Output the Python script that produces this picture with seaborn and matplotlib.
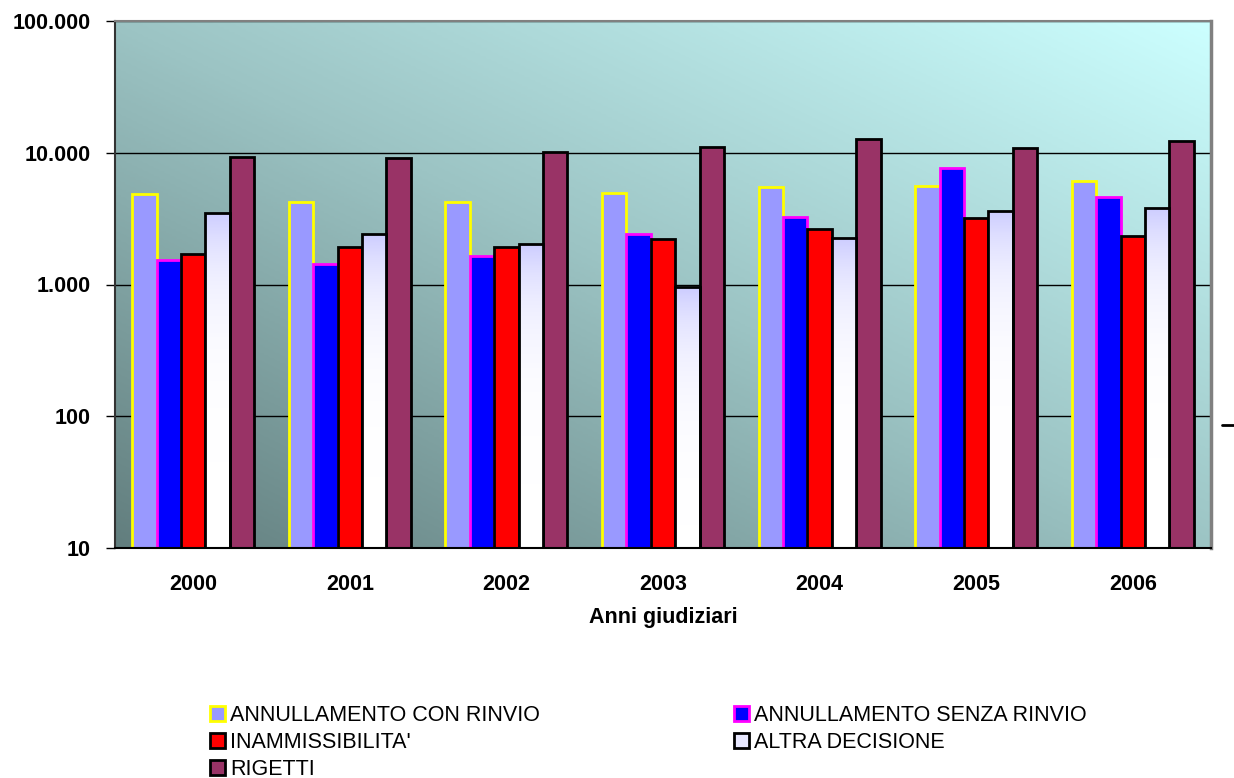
import numpy as np
import pandas as pd
import matplotlib.pyplot as plt
import matplotlib.ticker as mticker
from matplotlib.colors import LinearSegmentedColormap
from matplotlib.patches import Patch
import seaborn as sns

sns.set_style("white")
plt.rcParams['font.family'] = ['Liberation Sans', 'DejaVu Sans']
plt.rcParams['text.color'] = 'black'
plt.rcParams['axes.labelcolor'] = 'black'
plt.rcParams['xtick.color'] = 'black'
plt.rcParams['ytick.color'] = 'black'

anni = ["2000", "2001", "2002", "2003", "2004", "2005", "2006"]
serie = ["ANNULLAMENTO CON RINVIO", "ANNULLAMENTO SENZA RINVIO", "INAMMISSIBILITA'",
         "ALTRA DECISIONE", "RIGETTI"]
con_rinvio = [4860, 4230, 4230, 4950, 5500, 5600, 6110]
senza_rinvio = [1535, 1432, 1645, 2415, 3250, 7660, 4610]
inammissibilita = [1706, 1927, 1930, 2215, 2640, 3200, 2335]
altra = [3490, 2415, 2030, 957, 2255, 3610, 3810]
rigetti = [9290, 9120, 10100, 11060, 12710, 10870, 12280]

facecol = ["#9999FF", "#0000FF", "#FF0000", "#CCCCFF", "#993366"]
edgecol = ["#FFFF00", "#FF00FF", "#000000", "#000000", "#000000"]

df = pd.DataFrame({"anno": anni * 5,
                   "tipo": np.repeat(serie, len(anni)),
                   "valore": con_rinvio + senza_rinvio + inammissibilita + altra + rigetti})

fig = plt.figure(figsize=(12.34, 7.78), dpi=100)
ax = fig.add_axes([115 / 1234, 1 - 548 / 778, 1096 / 1234, 527 / 778])

# sfondo sfumato
bg = LinearSegmentedColormap.from_list("bg", ["#627e7e", "#9cc4c4", "#ccffff"])
gx, gy = np.meshgrid(np.linspace(0, 1, 200), np.linspace(0, 1, 200))
ax.imshow((gx + gy) / 2, cmap=bg, extent=[0, 1, 0, 1], transform=ax.transAxes,
          origin="lower", aspect="auto", zorder=0)

ax.set_yscale("log")
sns.barplot(data=df, x="anno", y="valore", hue="tipo", hue_order=serie,
            palette=facecol, saturation=1, width=0.78, ax=ax, zorder=3, legend=False)

for cont, ec in zip(ax.containers, edgecol):
    for p in cont:
        p.set_edgecolor(ec)
        p.set_linewidth(2)

# sfumatura per ALTRA DECISIONE
altra_cmap = LinearSegmentedColormap.from_list("alt", ["#FFFFFF", "#CCCCFF"])
for p in ax.containers[3]:
    x0, w = p.get_x(), p.get_width()
    h = p.get_height()
    im = ax.imshow(np.linspace(0, 1, 100).reshape(-1, 1), cmap=altra_cmap,
                   extent=[x0, x0 + w, 10, h], origin="lower", aspect="auto", zorder=3.5)
    im.set_clip_path(p)
    p.set_zorder(3.6)
    p.set_facecolor("none")

ax.set_xlim(-0.5, 6.5)
ax.set_ylim(10, 100000)

ax.yaxis.set_major_locator(mticker.LogLocator(base=10, numticks=10))
ax.yaxis.set_minor_locator(mticker.NullLocator())
ax.yaxis.set_major_formatter(mticker.FuncFormatter(lambda v, _: f"{v:,.0f}".replace(",", ".")))
ax.grid(axis="y", color="black", linewidth=1)
for gl in ax.get_ygridlines():
    gl.set_zorder(1)

ax.set_xticks(np.arange(-0.5, 7, 1), minor=True)
ax.tick_params(axis="x", which="major", length=0, pad=19)
ax.tick_params(axis="x", which="minor", length=4.5, width=1, color="black", direction="out")
ax.tick_params(axis="y", length=6.5, width=1, color="black", direction="out", left=True, pad=11)
for lab in ax.get_xticklabels() + ax.get_yticklabels():
    lab.set_fontweight("bold")
    lab.set_fontsize(15.5)

ax.set_xlabel("Anni giudiziari", fontsize=15.5, fontweight="bold", labelpad=8.5)
ax.set_ylabel("")

ax.spines["left"].set_color("#333333")
ax.spines["bottom"].set_color("black")
ax.spines["top"].set_color("#808080")
ax.spines["right"].set_color("#808080")
for s in ax.spines.values():
    s.set_linewidth(1.5)
    s.set_visible(True)
    s.set_zorder(5)
ax.spines["right"].set_linewidth(2.5)

leg_handles = [Patch(facecolor=fc, edgecolor=ec, linewidth=2) for fc, ec in zip(facecol, edgecol)]
leg_handles[3] = Patch(facecolor="#E8E8FF", edgecolor="black", linewidth=2)
order = [0, 2, 4, 1, 3]
fig.legend([leg_handles[i] for i in order], [serie[i] for i in order],
           loc="upper left", bbox_to_anchor=(199 / 1234, 1 - 694 / 778), ncol=2,
           frameon=False, fontsize=15.5, handlelength=0.7, handleheight=0.7,
           handletextpad=0.25, columnspacing=9.0, labelspacing=0.28, borderpad=0)

fig.add_artist(plt.Line2D([1222 / 1234, 1234 / 1234], [1 - 425 / 778] * 2,
                          color="black", linewidth=2))

fig.savefig("out.png", dpi=100)
